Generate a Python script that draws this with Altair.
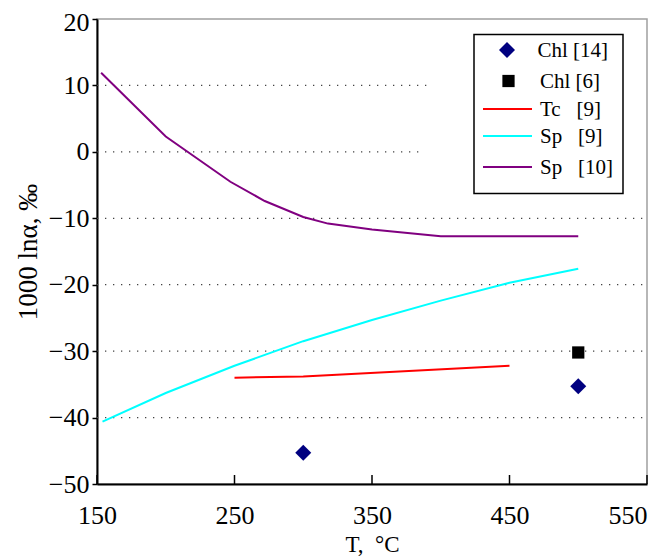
import altair as alt
import pandas as pd

# ---- data ----
sp10_T = [153, 200, 247, 272, 300, 318, 350, 400, 500]
sp10_v = [11.9, 2.3, -4.5, -7.4, -9.8, -10.8, -11.7, -12.7, -12.7]

sp9_T = [154, 200, 250, 300, 350, 400, 450, 500]
sp9_v = [-40.6, -36.3, -32.2, -28.5, -25.3, -22.4, -19.7, -17.6]

tc_T = [250, 300, 450]
tc_v = [-34.0, -33.8, -32.2]

chl14_T = [300, 500]
chl14_v = [-45.3, -35.3]

chl6_T = [500]
chl6_v = [-30.2]

x_ticks = [150, 250, 350, 450, 550]
y_ticks = [20, 10, 0, -10, -20, -30, -40, -50]

grid_y = [10, 0, -10, -20, -30, -40]
grid_x_start = [150, 150, 150, 150, 150, 150]
grid_x_end = [393, 387, 550, 550, 550, 550]

legend_labels = ["Chl [14]", "Chl [6]", "Tc\u00a0\u00a0 [9]", "Sp\u00a0\u00a0 [9]", "Sp\u00a0\u00a0 [10]"]

W, H = 550, 465
FONT = "Liberation Serif"

xs = alt.Scale(domain=[150, 550], nice=False, zero=False)
ys = alt.Scale(domain=[-50, 20], nice=False, zero=False)


def X(field):
    return alt.X(field, type="quantitative", scale=xs,
                 axis=alt.Axis(values=x_ticks, title="T,\u00a0\u00a0°C", grid=False,
                               ticks=False, labelPadding=18, titlePadding=5,
                               titleFontSize=23,
                               labelFlush=False,
                               labelAlign={"condition": {"test": "datum.value == 550", "value": "right"},
                                           "value": "center"}))


def Y(field):
    return alt.Y(field, type="quantitative", scale=ys,
                 axis=alt.Axis(values=y_ticks, title="1000 lnα, ‰", grid=False,
                               tickSize=5, labelPadding=3, titlePadding=6, labelFlush=False,
                               labelOffset={"condition": {"test": "datum.value == 20", "value": 3},
                                            "value": 0}))


grid_df = pd.DataFrame({"T": grid_x_start, "T2": grid_x_end, "v": grid_y})
grid = alt.Chart(grid_df).mark_rule(color="#444444", strokeWidth=1.3, strokeDash=[1.3, 6.7]).encode(
    x=X("T"), x2="T2", y=Y("v"))

tick_df = pd.DataFrame({"T": x_ticks})
xticks = alt.Chart(tick_df).mark_rule(color="black", strokeWidth=1.5).encode(
    x=X("T"), y=alt.value(H), y2=alt.value(H - 9))


def line(Tl, vl, color):
    df = pd.DataFrame({"T": Tl, "v": vl})
    return alt.Chart(df).mark_line(color=color, strokeWidth=2).encode(x=X("T"), y=Y("v"))


sp10 = line(sp10_T, sp10_v, "#800080")
sp9 = line(sp9_T, sp9_v, "#00FFFF")
tc = line(tc_T, tc_v, "#FF0000")

chl14 = alt.Chart(pd.DataFrame({"T": chl14_T, "v": chl14_v})).mark_point(
    shape="diamond", filled=True, color="#000080", size=256, opacity=1).encode(x=X("T"), y=Y("v"))
chl6 = alt.Chart(pd.DataFrame({"T": chl6_T, "v": chl6_v})).mark_point(
    shape="square", filled=True, color="black", size=150, opacity=1).encode(x=X("T"), y=Y("v"))

# ---- hand-made legend ----
lg_df = pd.DataFrame({"label": legend_labels})
box = alt.Chart(lg_df.head(1)).mark_rect(fill="white", stroke="black", strokeWidth=1.5).encode(
    x=alt.value(377), x2=alt.value(526), y=alt.value(15.6), y2=alt.value(174.6))

row_y = [31, 62, 90, 117, 148]
text_x = [440.5, 443, 443, 443, 443]
legend_layers = [box]
for i in range(5):
    legend_layers.append(
        alt.Chart(lg_df.iloc[[i]]).mark_text(font=FONT, fontSize=21, align="left", baseline="middle",
                                             color="black").encode(
            text="label:N", x=alt.value(text_x[i]), y=alt.value(row_y[i] + 1)))

legend_layers.append(alt.Chart(lg_df.iloc[[0]]).mark_point(
    shape="diamond", filled=True, color="#000080", size=256, opacity=1).encode(
    x=alt.value(410), y=alt.value(row_y[0])))
legend_layers.append(alt.Chart(lg_df.iloc[[1]]).mark_point(
    shape="square", filled=True, color="black", size=150, opacity=1).encode(
    x=alt.value(411.5), y=alt.value(row_y[1])))
for i, c in zip([2, 3, 4], ["#FF0000", "#00FFFF", "#800080"]):
    legend_layers.append(alt.Chart(lg_df.iloc[[i]]).mark_rule(color=c, strokeWidth=2).encode(
        x=alt.value(386), x2=alt.value(435), y=alt.value(row_y[i])))

chart = alt.layer(grid, xticks, tc, sp9, sp10, chl14, chl6, *legend_layers).properties(
    width=W, height=H,
    autosize=alt.AutoSizeParams(type="none"),
    padding={"left": 89, "top": 11, "right": 3, "bottom": 80},
).configure_view(
    stroke="#A0A0A0", strokeWidth=1.5
).configure_axis(
    domainColor="black", domainWidth=2, tickColor="black", tickWidth=1.5,
    labelFont=FONT, labelFontSize=26, labelColor="black",
    titleFont=FONT, titleFontSize=27, titleFontWeight="normal", titleColor="black",
)

chart.save("out.html", embed_options={"renderer": "svg", "actions": False})
